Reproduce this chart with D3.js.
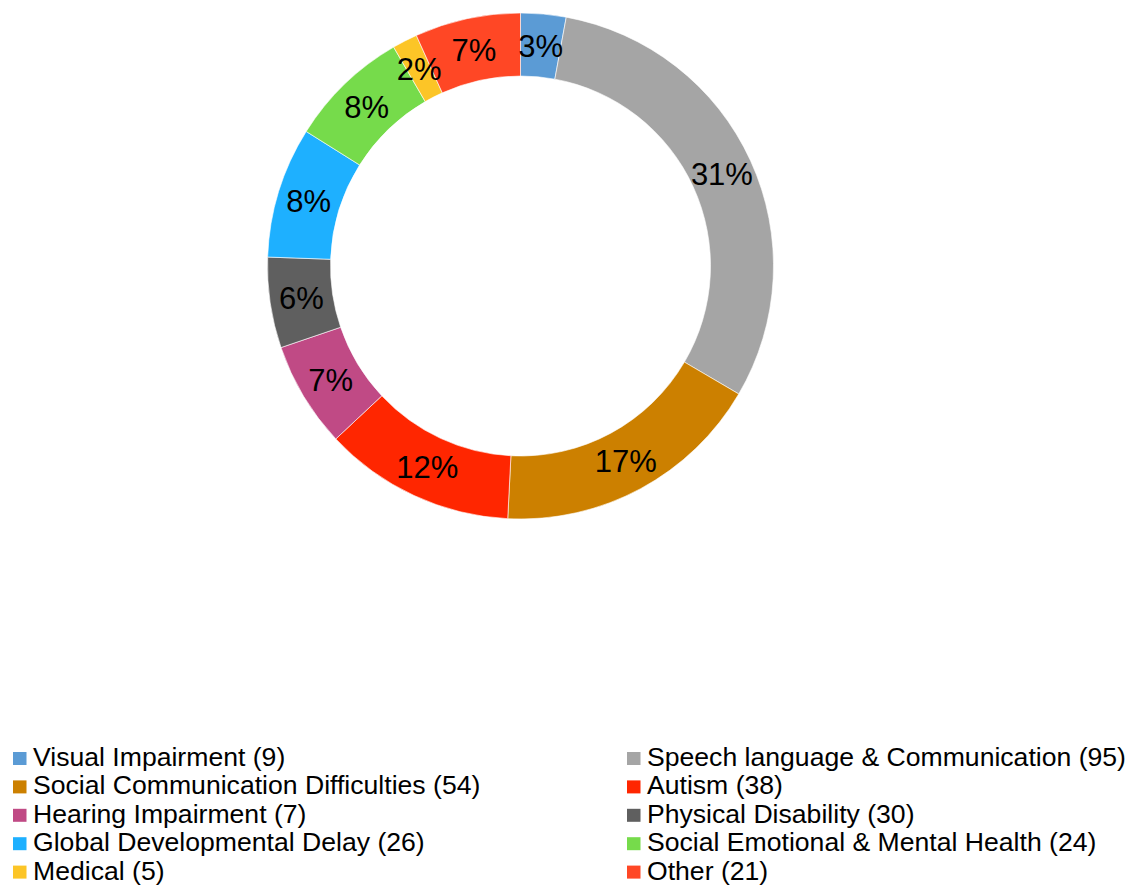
<!DOCTYPE html>
<html>
<head>
<meta charset="utf-8">
<script src="https://cdn.jsdelivr.net/npm/d3@7"></script>
<style>
  html, body { margin: 0; padding: 0; background: #ffffff; }
  svg { display: block; font-family: "Liberation Sans", Arial, sans-serif; }
</style>
</head>
<body>
<svg id="chart" width="1137" height="888"></svg>
<script>
// Need categories, in drawing order (clockwise from 12 o'clock)
const categories = [
  "Visual Impairment",
  "Speech language & Communication",
  "Social Communication Difficulties",
  "Autism",
  "Hearing Impairment",
  "Physical Disability",
  "Global Developmental Delay",
  "Social Emotional & Mental Health",
  "Medical",
  "Other"
];

// Size of each ring segment
const values = [9, 95, 54, 38, 21, 18, 26, 24, 5, 21];

// Counts printed in the legend entries
const legendCounts = [9, 95, 54, 38, 7, 30, 26, 24, 5, 21];

const colors = [
  "#5B9BD5", "#A5A5A5", "#CC8000", "#FF2600", "#C04A85",
  "#5F5F5F", "#1EB0FF", "#76DB4B", "#FCC527", "#FF4725"
];

const svg = d3.select("#chart");

const cx = 520.5, cy = 266;
const outerR = 253, innerR = 190;

const total = d3.sum(values);
const data = categories.map((c, i) => ({ name: c, value: values[i], color: colors[i], count: legendCounts[i] }));

const pie = d3.pie().value(d => d.value).sort(null);
const arc = d3.arc().innerRadius(innerR).outerRadius(outerR);
const labelArc = d3.arc().innerRadius((innerR + outerR) / 2).outerRadius((innerR + outerR) / 2);

const ring = svg.append("g").attr("transform", `translate(${cx},${cy})`);
const arcs = pie(data);

ring.selectAll("path.slice")
  .data(arcs)
  .join("path")
  .attr("class", "slice")
  .attr("d", arc)
  .attr("fill", d => d.data.color)
  .attr("stroke", "#ffffff")
  .attr("stroke-width", 0.6);

ring.selectAll("text.pct")
  .data(arcs)
  .join("text")
  .attr("class", "pct")
  .attr("transform", d => `translate(${labelArc.centroid(d)})`)
  .attr("text-anchor", "middle")
  .attr("dy", "0.36em")
  .attr("font-size", 31)
  .attr("fill", "#000000")
  .text(d => Math.round(d.data.value / total * 100) + "%");

// Legend: two columns, filled row by row
const legend = svg.append("g");
const colX = [13, 627];
const rowY0 = 766, rowStep = 28.4;

const items = legend.selectAll("g.item")
  .data(data)
  .join("g")
  .attr("class", "item")
  .attr("transform", (d, i) => `translate(${colX[i % 2]},${rowY0 + Math.floor(i / 2) * rowStep})`);

items.append("rect")
  .attr("x", 0)
  .attr("y", -14)
  .attr("width", 13.5)
  .attr("height", 13)
  .attr("fill", d => d.color);

items.append("text")
  .attr("x", 20)
  .attr("y", 0)
  .attr("font-size", 26.6)
  .attr("fill", "#000000")
  .text(d => `${d.name} (${d.count})`);
</script>
</body>
</html>
